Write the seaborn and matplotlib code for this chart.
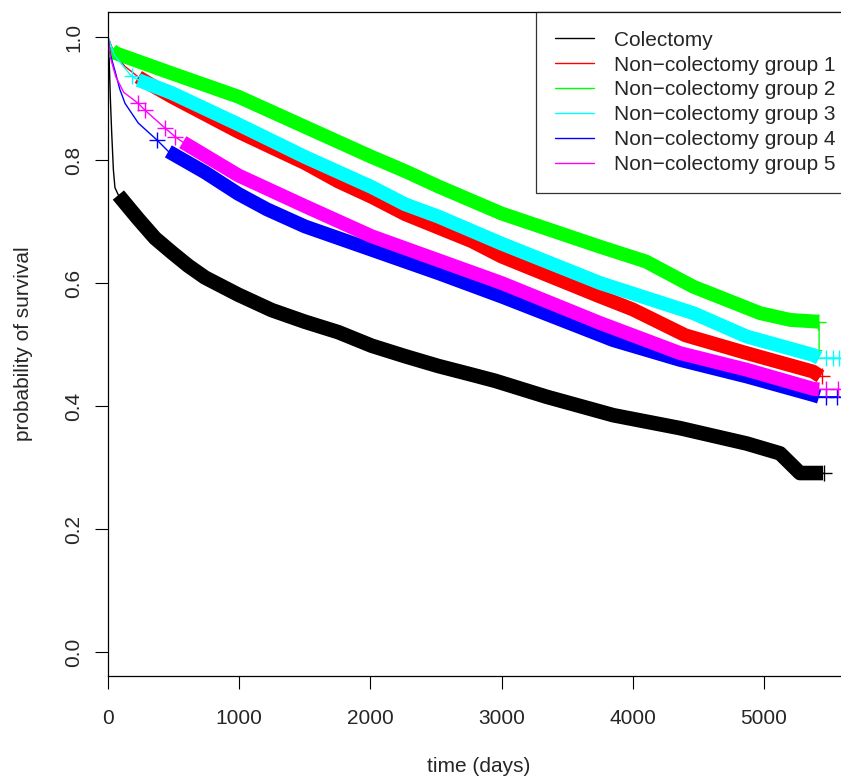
import numpy as np
import pandas as pd
import seaborn as sns
import matplotlib.pyplot as plt
from matplotlib.lines import Line2D

sns.set_style('white')
plt.rcParams['font.family'] = ['Liberation Sans', 'DejaVu Sans']

# ----------------------------------------------------------------------
# survival curves (time in days, survival prob.)
# ----------------------------------------------------------------------
groups = ['Colectomy', 'Non\u2212colectomy group 1', 'Non\u2212colectomy group 2',
          'Non\u2212colectomy group 3', 'Non\u2212colectomy group 4', 'Non\u2212colectomy group 5']
colors = ['black', '#FF0000', '#00FF00', '#00FFFF', '#0000FF', '#FF00FF']

t_black = [0, 8, 18, 28, 41, 53, 79, 231, 358, 485, 612, 739, 993, 1247, 1501, 1756,
           2010, 2264, 2518, 2772, 2950, 3343, 3852, 4360, 4868, 5122, 5198, 5274, 5450]
s_black = [1.0, 0.97, 0.9, 0.845, 0.784, 0.755, 0.743, 0.704, 0.673, 0.65, 0.628, 0.609,
           0.581, 0.556, 0.537, 0.52, 0.498, 0.481, 0.465, 0.451, 0.441, 0.415, 0.385,
           0.364, 0.339, 0.323, 0.307, 0.291, 0.291]

t_red = [0, 50, 130, 231, 330, 485, 993, 1501, 1756, 2010, 2264, 2518, 2772, 3000, 3750,
         4000, 4400, 4868, 5374, 5430]
s_red = [1.0, 0.972, 0.952, 0.935, 0.922, 0.903, 0.846, 0.795, 0.765, 0.74, 0.712, 0.69,
         0.668, 0.643, 0.578, 0.557, 0.515, 0.486, 0.456, 0.448]

t_green = [0, 10, 28, 53, 485, 993, 1501, 2010, 2264, 2518, 3000, 3750, 4100, 4461,
           4970, 5200, 5420, 5420, 5440]
s_green = [1.0, 0.985, 0.979, 0.974, 0.941, 0.903, 0.854, 0.805, 0.782, 0.757, 0.713,
           0.659, 0.635, 0.594, 0.551, 0.54, 0.537, 0.49, 0.49]

t_cyan = [0, 50, 180, 231, 485, 993, 1501, 2010, 2264, 2518, 3000, 3750, 4461, 4868,
          5374, 5420, 5580]
s_cyan = [1.0, 0.97, 0.936, 0.93, 0.909, 0.858, 0.805, 0.756, 0.728, 0.708, 0.664, 0.60,
          0.551, 0.513, 0.483, 0.478, 0.478]

t_blue = [0, 20, 53, 90, 130, 231, 371, 460, 739, 993, 1210, 1501, 2010, 2518, 3000,
          3852, 4360, 4868, 5374, 5420, 5580]
s_blue = [1.0, 0.97, 0.945, 0.915, 0.892, 0.86, 0.833, 0.814, 0.78, 0.745, 0.72, 0.692,
          0.654, 0.616, 0.578, 0.507, 0.475, 0.448, 0.418, 0.415, 0.415]

t_mag = [0, 20, 60, 120, 231, 282, 434, 511, 570, 993, 1501, 2010, 2518, 3000, 3750,
         4360, 4868, 5374, 5420, 5580]
s_mag = [1.0, 0.965, 0.935, 0.91, 0.892, 0.881, 0.852, 0.838, 0.829, 0.775, 0.725, 0.676,
         0.637, 0.60, 0.535, 0.486, 0.459, 0.428, 0.427, 0.427]

times = [t_black, t_red, t_green, t_cyan, t_blue, t_mag]
survs = [s_black, s_red, s_green, s_cyan, s_blue, s_mag]

# where the dense run of censoring ticks begins / ends (days)
band_start = [79, 231, 28, 231, 460, 570]
band_end = [5450, 5430, 5420, 5420, 5420, 5420]
band_width = [10.5, 10, 10, 10, 10, 10]

# isolated censoring marks (days)
cens_black = [5460]
cens_red = [5445]
cens_green = [5415]
cens_cyan = [180, 5470, 5525, 5575]
cens_blue = [371, 5475, 5560]
cens_mag = [231, 282, 434, 511, 5470, 5565]
censors = [cens_black, cens_red, cens_green, cens_cyan, cens_blue, cens_mag]

# ----------------------------------------------------------------------
# plot
# ----------------------------------------------------------------------
W, H = 841, 778
fig = plt.figure(figsize=(W / 100, H / 100), dpi=100)
ax = fig.add_axes([108 / W, (H - 676) / H, (850 - 108) / W, (676 - 12) / H])

for t, s, c, b0, b1, bw, cens in zip(times, survs, colors, band_start, band_end,
                                     band_width, censors):
    df = pd.DataFrame({'time': t, 'surv': s})
    sns.lineplot(data=df, x='time', y='surv', color=c, lw=1.0, estimator=None,
                 sort=False, ax=ax)
    # thick run of censor ticks (the final drop stays thin)
    band = df[(df['time'] >= b0) & (df['time'] <= b1)].drop_duplicates('time', keep='first')
    ax.plot(band['time'], band['surv'], color=c, lw=bw, solid_capstyle='butt',
            solid_joinstyle='round')
    cs = np.interp(cens, t, s)
    ax.plot(cens, cs, ls='none', marker='+', ms=11, mew=1.0, color=c)

ax.set_xlim(0, (850 - 108) / 0.1312)
ax.set_ylim(-(676 - 652) / 615, 1 + (37 - 12) / 615)
ax.set_xticks([0, 1000, 2000, 3000, 4000, 5000])
ax.set_yticks([0.0, 0.2, 0.4, 0.6, 0.8, 1.0])
ax.set_yticklabels(['0.0', '0.2', '0.4', '0.6', '0.8', '1.0'], rotation=90, va='center')
ax.tick_params(axis='both', direction='out', length=9.5, width=0.8, color='black',
               labelsize=15, bottom=True, left=True)
ax.tick_params(axis='x', pad=14)
ax.tick_params(axis='y', pad=8.5)
for sp in ax.spines.values():
    sp.set_color('black')
    sp.set_linewidth(0.9)

ax.set_xlabel('time (days)', fontsize=15, labelpad=21)
ax.set_ylabel('probability of survival', fontsize=15, labelpad=22)

handles = [Line2D([0], [0], color=c, lw=1.0) for c in colors]
leg = ax.legend(handles, groups, loc='upper left', bbox_to_anchor=(536 / W, 1 - 12 / H),
                bbox_transform=fig.transFigure, fontsize=15, frameon=True, fancybox=False,
                borderpad=0.9, labelspacing=0.28, handlelength=1.9, handletextpad=0.95,
                borderaxespad=0)
leg.get_frame().set_edgecolor('black')
leg.get_frame().set_linewidth(0.9)

fig.savefig('out.png', dpi=100)
